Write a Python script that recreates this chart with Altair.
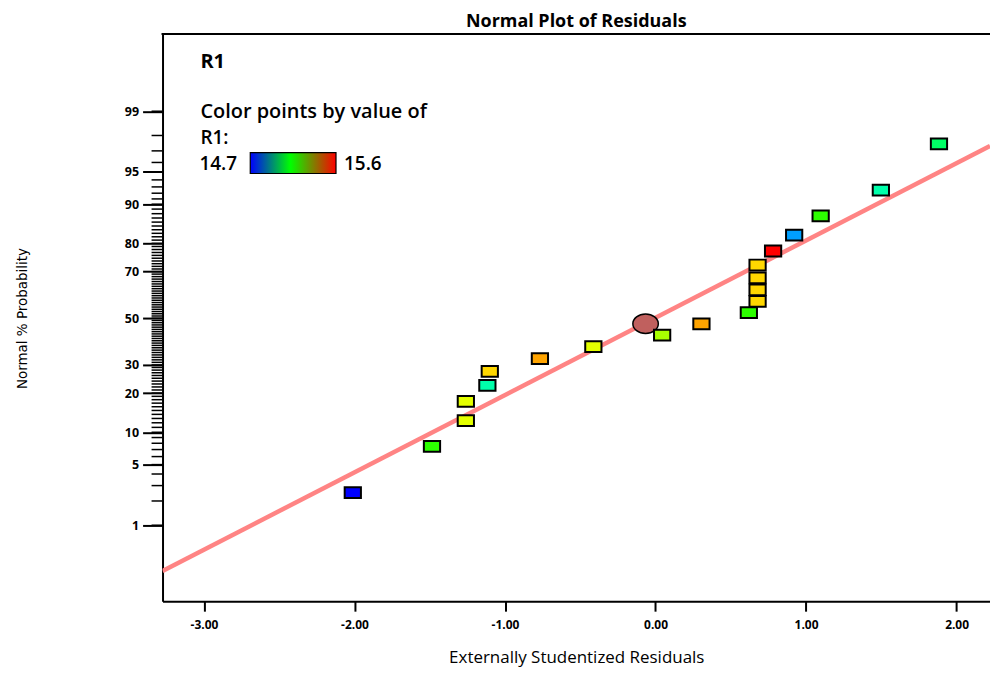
import altair as alt
import pandas as pd
from statistics import NormalDist

nd = NormalDist()

# ---- data ----
residuals = [-2.011, -1.485, -1.260, -1.260, -1.117, -1.101, -0.768, -0.413, 0.044, 0.305,
             0.620, 0.678, 0.678, 0.678, 0.678, 0.781, 0.921, 1.097, 1.497, 1.883]
probabilities = [2.5, 7.5, 12.5, 17.5, 22.5, 27.5, 32.5, 37.5, 42.5, 47.5,
                 52.5, 57.5, 62.5, 67.5, 72.5, 77.5, 82.5, 87.5, 92.5, 97.5]
r1_values = [14.70, 15.19, 15.35, 15.35, 15.00, 15.41, 15.455, 15.35, 15.30, 15.455,
             15.19, 15.41, 15.41, 15.41, 15.41, 15.60, 14.84, 15.19, 15.00, 15.06]

pivot_residual = [-0.066]
pivot_prob = [47.5]

line_residual = [-3.275, 2.222]
line_prob = [0.2256, 97.35]

r1_range = [14.7, 15.6]
color_domain = [14.7, 14.925, 15.15, 15.375, 15.6]
color_range = ["#0000ff", "#00ffff", "#00ff00", "#ffff00", "#ff0000"]

major_percent = [1, 5, 10, 20, 30, 50, 70, 80, 90, 95, 99]
minor_percent = list(range(1, 100))
x_ticks = [-3, -2, -1, 0, 1, 2]

FONT = "Open Sans"
NARROW = "Liberation Sans Narrow, DejaVu Sans Condensed, sans-serif"

def z(p):
    return nd.inv_cdf(p / 100.0)

df = pd.DataFrame({"residual": residuals, "prob": probabilities, "r1": r1_values})
df["z"] = [z(p) for p in df["prob"]]
pivot_df = pd.DataFrame({"residual": pivot_residual, "z": [z(p) for p in pivot_prob]})
line_df = pd.DataFrame({"residual": line_residual, "z": [z(p) for p in line_prob]})
minor_df = pd.DataFrame({"z": [z(p) for p in minor_percent]})
dummy = pd.DataFrame({"a": [0]})

W, H = 830, 569
xscale = alt.Scale(domain=[-3.275, 2.222], nice=False, zero=False)
yscale = alt.Scale(domain=[-3.18, 3.195], nice=False, zero=False)

major_z = [z(p) for p in major_percent]
parts = [f"abs(datum.value - ({zz:.6f})) < 0.001 ? '{p}'" for p, zz in zip(major_percent, major_z)]
y_label_expr = " : ".join(parts) + " : ''"

xaxis = alt.Axis(values=x_ticks, labelExpr="(datum.value < 0 ? '-' : '') + format(abs(datum.value), '.2f')",
                 title="Externally Studentized Residuals", titleFont=FONT, titleFontSize=17,
                 titleFontWeight="normal", titleColor="black", titleY=61, titleBaseline="alphabetic",
                 labelFont=FONT, labelFontSize=12, labelFontWeight="bold", labelColor="black",
                 labelPadding=8, labelBaseline="top",
                 tickSize=10, tickWidth=2, tickColor="black",
                 domainColor="black", domainWidth=2, grid=False, labelFlush=False)

yaxis = alt.Axis(values=major_z, labelExpr=y_label_expr,
                 title="Normal % Probability", titleFont=NARROW, titleFontSize=15,
                 titleFontWeight="normal", titleColor="black", titleAngle=270,
                 titleX=-141, titleY=285, titleAlign="center", titleBaseline="middle",
                 labelFont=FONT, labelFontSize=12.5, labelFontWeight="bold", labelColor="black",
                 labelPadding=4, tickSize=20, tickWidth=2, tickColor="black",
                 domainColor="black", domainWidth=2, grid=False, labelFlush=False)

X = alt.X("residual:Q", scale=xscale, axis=xaxis)
Y = alt.Y("z:Q", scale=yscale, axis=yaxis)

fit_line = alt.Chart(line_df).mark_line(color="#ff8484", strokeWidth=4.5, clip=True).encode(x=X, y=Y)

minor_ticks = alt.Chart(minor_df).mark_rule(color="black", strokeWidth=1.5).encode(
    y=Y,
    x=alt.value(-11),
    x2=alt.value(0),
)

top_rule = alt.Chart(dummy).mark_rule(color="black", strokeWidth=2).encode(
    x=alt.value(-1), x2=alt.value(W), y=alt.value(0)
)

ELLIPSE = "M-1.31,0A1.31,1,0,1,0,1.31,0A1.31,1,0,1,0,-1.31,0Z"
SQUARE = "M-1.5,-1L1.5,-1L1.5,1L-1.5,1Z"

pivot = alt.Chart(pivot_df).mark_point(shape=ELLIPSE, size=380, filled=True, fill="#c0605e",
                                       stroke="black", strokeWidth=1.5, opacity=1).encode(x=X, y=Y)

points = alt.Chart(df).mark_point(shape=SQUARE, size=118, filled=True, stroke="black",
                                  strokeWidth=2, opacity=1, fillOpacity=1).encode(
    x=X, y=Y,
    fill=alt.Fill("r1:Q", scale=alt.Scale(domain=color_domain, range=color_range, interpolate="rgb"),
                  legend=None),
)

def label(text, x, y, size=19, weight="normal", align="left"):
    return alt.Chart(dummy).mark_text(text=text, font=FONT, fontSize=size, fontWeight=weight,
                                      color="black", align=align, baseline="middle").encode(
        x=alt.value(x), y=alt.value(y))

gradient = alt.LinearGradient(
    gradient="linear", x1=0, y1=0, x2=1, y2=0,
    stops=[alt.GradientStop(offset=0, color="#0000ff"),
           alt.GradientStop(offset=0.47, color="#00ff00"),
           alt.GradientStop(offset=1, color="#ff0000")])

legend_bar = alt.Chart(dummy).mark_rect(color=gradient, stroke="black", strokeWidth=1.2).encode(
    x=alt.value(88), x2=alt.value(174), y=alt.value(119), y2=alt.value(140))

legend = [
    label("R1", 38, 28, size=20, weight="bold"),
    label("Color points by value of", 38, 78, size=20, weight=600),
    label("R1:", 38, 104, weight=600),
    label(f"{r1_range[0]}", 37, 130, weight=600),
    label(f"{r1_range[1]}", 182, 130, weight=600),
    legend_bar,
]

chart = alt.layer(fit_line, minor_ticks, top_rule, pivot, points, *legend).properties(
    width=W, height=H,
    padding={"left": 155, "top": 25, "right": 0, "bottom": 67},
    autosize=alt.AutoSizeParams(type="none"),
    title=alt.TitleParams("Normal Plot of Residuals", font=FONT, fontSize=18, fontWeight="bold",
                          color="black", anchor="middle", offset=2),
).configure_view(stroke=None)

chart.save("out.html", embed_options={"renderer": "svg", "actions": False})
